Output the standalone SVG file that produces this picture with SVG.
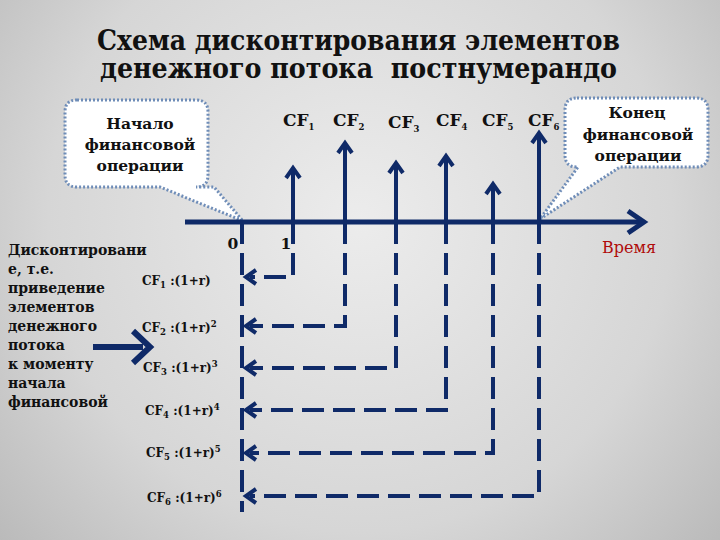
<svg xmlns="http://www.w3.org/2000/svg" width="720" height="540" viewBox="0 0 720 540">
<defs>
<radialGradient id="bg" cx="360" cy="220" r="520" gradientUnits="userSpaceOnUse">
<stop offset="0" stop-color="#ececec"/>
<stop offset="0.6" stop-color="#d6d6d6"/>
<stop offset="1" stop-color="#b4b4b4"/>
</radialGradient>
<style>
.ln{fill:none;stroke:#0f2a68;stroke-width:4;stroke-linejoin:miter}
.ds{fill:none;stroke:#0f2a68;stroke-width:4;stroke-dasharray:22 9}
.hd{fill:none;stroke:#0f2a68;stroke-width:4;stroke-linecap:butt;stroke-linejoin:miter}
.co{fill:#ffffff;stroke:#6f8db8;stroke-width:3;stroke-dasharray:2 2}
.tl{font-size:15.5px;fill:#111}
.tt{font-size:27px;fill:#111}
.lb{font-size:14px;fill:#111}
.cf{font-size:17px;fill:#111}
.fm{font-size:12px;fill:#111}
.sm{font-size:8.5px}
</style>
</defs>
<rect x="0" y="0" width="720" height="540" fill="url(#bg)"/>

<g id="title" font-family="DejaVu Serif, Liberation Serif, serif" font-weight="bold">
<text class="tt" x="97" y="50" textLength="523" lengthAdjust="spacingAndGlyphs">Схема дисконтирования элементов</text>
<text class="tt" x="100" y="78" textLength="517" lengthAdjust="spacingAndGlyphs" xml:space="preserve">денежного потока  постнумерандо</text>
</g>

<g id="start-callout" font-family="DejaVu Serif, Liberation Serif, serif" font-weight="bold">
<path class="co" d="M77,100 H196 Q208,100 208,112 V175 Q208,187 196,187 H214 L243,221 L160,187 H77 Q65,187 65,175 V112 Q65,100 77,100 Z"/>
<text class="tl" x="140" y="129" text-anchor="middle">Начало</text>
<text class="tl" x="140" y="150" text-anchor="middle">финансовой</text>
<text class="tl" x="140" y="171" text-anchor="middle">операции</text>
</g>

<g id="end-callout" font-family="DejaVu Serif, Liberation Serif, serif" font-weight="bold">
<path class="co" d="M577,98 H696 Q708,98 708,110 V155 Q708,167 696,167 H620 L540,219 L578,167 H577 Q565,167 565,155 V110 Q565,98 577,98 Z"/>
<text class="tl" x="637" y="118" text-anchor="middle">Конец</text>
<text class="tl" x="638" y="140" text-anchor="middle">финансовой</text>
<text class="tl" x="638" y="161" text-anchor="middle">операции</text>
</g>

<g id="connectors">
<path class="ds" d="M293,222 V277 H250"/>
<path class="ds" d="M345,222 V326 H250"/>
<path class="ds" d="M396,222 V368 H250"/>
<path class="ds" d="M446,222 V410 H250"/>
<path class="ds" d="M493,222 V453 H250"/>
<path class="ds" d="M539,222 V496 H250"/>
<path class="ds" d="M242,222 V512"/>
<path class="hd" d="M256,270 L246,277 L256,284"/>
<path class="hd" d="M256,319 L246,326 L256,333"/>
<path class="hd" d="M256,361 L246,368 L256,375"/>
<path class="hd" d="M256,403 L246,410 L256,417"/>
<path class="hd" d="M256,446 L246,453 L256,460"/>
<path class="hd" d="M256,489 L246,496 L256,503"/>
</g>

<g id="cash-flows">
<path class="ln" d="M293,222 V169"/><path class="hd" d="M286,178 L293,168 L300,178"/>
<path class="ln" d="M345,222 V144"/><path class="hd" d="M338,153 L345,143 L352,153"/>
<path class="ln" d="M396,222 V164"/><path class="hd" d="M389,173 L396,163 L403,173"/>
<path class="ln" d="M446,222 V157"/><path class="hd" d="M439,166 L446,156 L453,166"/>
<path class="ln" d="M493,222 V185"/><path class="hd" d="M486,194 L493,184 L500,194"/>
<path class="ln" d="M539,222 V134"/><path class="hd" d="M532,143 L539,133 L546,143"/>
</g>

<g id="axis" font-family="DejaVu Serif, Liberation Serif, serif">
<path class="ln" style="stroke-width:5" d="M185,222 H643"/>
<path class="hd" style="stroke-width:5" d="M628,211 L644,222 L628,233"/>
<text class="tl" x="233" y="249" text-anchor="middle" font-weight="bold">0</text>
<text class="tl" x="286" y="249" text-anchor="middle" font-weight="bold">1</text>
<text x="602" y="253" font-size="16" fill="#b00c0c">Время</text>
</g>

<g id="cf-labels" font-family="DejaVu Serif, Liberation Serif, serif" font-weight="bold">
<text class="cf" x="283" y="126">CF<tspan class="sm" dy="4">1</tspan></text>
<text class="cf" x="333" y="126">CF<tspan class="sm" dy="4">2</tspan></text>
<text class="cf" x="388" y="128">CF<tspan class="sm" dy="4">3</tspan></text>
<text class="cf" x="436" y="126">CF<tspan class="sm" dy="4">4</tspan></text>
<text class="cf" x="482" y="126">CF<tspan class="sm" dy="4">5</tspan></text>
<text class="cf" x="528" y="126">CF<tspan class="sm" dy="4">6</tspan></text>
</g>

<g id="discount-text" font-family="DejaVu Serif, Liberation Serif, serif" font-weight="bold">
<text class="lb" x="8" y="255">Дисконтировани</text>
<text class="lb" x="8" y="274">е, т.е.</text>
<text class="lb" x="8" y="293">приведение</text>
<text class="lb" x="8" y="312">элементов</text>
<text class="lb" x="8" y="331">денежного</text>
<text class="lb" x="8" y="350">потока</text>
<text class="lb" x="8" y="369">к моменту</text>
<text class="lb" x="8" y="388">начала</text>
<text class="lb" x="8" y="407">финансовой</text>
<path class="hd" style="stroke-width:6" d="M93,347 H143"/>
<path class="hd" style="stroke-width:6" d="M133,331 L150,347 L133,363"/>
</g>

<g id="formulas" font-family="DejaVu Serif, Liberation Serif, serif" font-weight="bold">
<text class="fm" x="142" y="285">CF<tspan class="sm" dy="3">1</tspan><tspan dy="-3"> :(1+r)</tspan></text>
<text class="fm" x="142" y="332">CF<tspan class="sm" dy="3">2</tspan><tspan dy="-3"> :(1+r)</tspan><tspan class="sm" dy="-5">2</tspan></text>
<text class="fm" x="143" y="372">CF<tspan class="sm" dy="3">3</tspan><tspan dy="-3"> :(1+r)</tspan><tspan class="sm" dy="-5">3</tspan></text>
<text class="fm" x="145" y="415">CF<tspan class="sm" dy="3">4</tspan><tspan dy="-3"> :(1+r)</tspan><tspan class="sm" dy="-5">4</tspan></text>
<text class="fm" x="146" y="457">CF<tspan class="sm" dy="3">5</tspan><tspan dy="-3"> :(1+r)</tspan><tspan class="sm" dy="-5">5</tspan></text>
<text class="fm" x="147" y="502">CF<tspan class="sm" dy="3">6</tspan><tspan dy="-3"> :(1+r)</tspan><tspan class="sm" dy="-5">6</tspan></text>
</g>
</svg>
